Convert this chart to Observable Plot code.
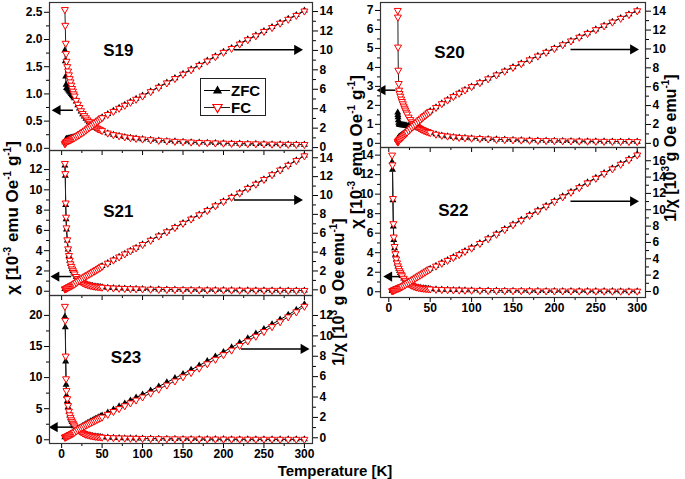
<!DOCTYPE html>
<html><head><meta charset="utf-8">
<script src="https://cdn.jsdelivr.net/npm/d3@7"></script>
<script src="https://cdn.jsdelivr.net/npm/@observablehq/plot@0.6"></script>
<style>
body{margin:0;background:#fff;font-family:Arial,"Liberation Sans",Helvetica,sans-serif;}
#wrap{position:relative;width:685px;height:479px;overflow:hidden;background:#fff;}
#wrap svg{position:absolute;max-width:none;}
.lbl{position:absolute;font-weight:bold;white-space:nowrap;font-size:17px;line-height:17px;color:#000;}
.lbl.sm{font-size:16px;line-height:16px;}
.lbl .sp{font-size:10px;position:relative;top:-7px;}
</style></head><body><div id="wrap"></div>
<script>
// ---------------- data ----------------
const temps = [4,4.5,5,5.5,6,7,8,9,10,11,12,13,14,15,16,18,20,22,24,26,28,30,32,34,36,38,40,42,44,46,48,50,57,64,71,78,85,92,100,110,120,130,140,150,160,170,180,190,200,210,220,230,240,250,260,270,280,290,300];
const tempsS20 = [10.8,11,11.2,11.5,12,12.5,13,14,15,16,17,18,19,20,21,22,24,26,28,30,32,34,36,38,40,42,44,46,48,50,57,64,71,78,85,92,100,110,120,130,140,150,160,170,180,190,200,210,220,230,240,250,260,270,280,290,300];

// S19
const fcChiS19 = [2.55,2.26,1.93,1.74,1.6,1.5,1.42,1.35,1.28,1.22,1.16,1.1,1.05,1.0,0.96,0.88,0.81,0.75,0.69,0.64,0.6,0.56,0.52,0.49,0.46,0.435,0.41,0.39,0.37,0.355,0.34,0.325,0.28,0.25,0.23,0.21,0.195,0.182,0.17,0.157,0.146,0.137,0.128,0.12,0.114,0.108,0.103,0.098,0.094,0.09,0.087,0.084,0.082,0.079,0.077,0.075,0.073,0.071,0.069];
const zfcChiS19 = [1.8,1.6,1.32,1.17,1.11,1.1,1.08,1.06,1.04,1.02,1.0,0.98,0.96,0.94,0.92,0.86,0.79,0.73,0.675,0.625,0.585,0.545,0.51,0.48,0.45,0.425,0.4,0.38,0.36,0.345,0.33,0.318,0.277,0.248,0.228,0.209,0.194,0.181,0.169,0.156,0.145,0.136,0.127,0.119,0.113,0.107,0.102,0.097,0.093,0.089,0.086,0.083,0.081,0.078,0.076,0.074,0.072,0.07,0.068];
const fcInvS19 = [0.39,0.44,0.52,0.57,0.62,0.67,0.7,0.74,0.78,0.82,0.86,0.91,0.95,1.0,1.04,1.14,1.23,1.33,1.45,1.56,1.67,1.79,1.92,2.04,2.17,2.3,2.44,2.56,2.7,2.82,2.94,3.07,3.4,3.72,4.04,4.35,4.66,4.97,5.3,5.75,6.2,6.65,7.1,7.55,8.0,8.45,8.9,9.35,9.8,10.2,10.65,11.1,11.5,11.95,12.35,12.8,13.2,13.6,14.05];
const zfcInvS19 = [0.56,0.63,0.76,0.85,0.9,0.91,0.93,0.94,0.96,0.98,1.0,1.02,1.04,1.06,1.09,1.16,1.26,1.37,1.48,1.6,1.71,1.83,1.96,2.08,2.22,2.35,2.49,2.62,2.76,2.88,3.0,3.13,3.46,3.78,4.1,4.4,4.72,5.03,5.35,5.8,6.25,6.7,7.15,7.6,8.05,8.5,8.95,9.4,9.85,10.25,10.7,11.15,11.55,12.0,12.4,12.85,13.25,13.65,14.1];

// S20
const fcChiS20 = [7.0,6.65,5.07,3.85,3.15,2.8,2.62,2.48,2.33,2.2,2.08,1.96,1.85,1.75,1.64,1.54,1.38,1.25,1.13,1.04,0.96,0.89,0.83,0.78,0.73,0.69,0.65,0.62,0.59,0.56,0.48,0.42,0.38,0.34,0.31,0.29,0.27,0.25,0.23,0.21,0.195,0.182,0.17,0.16,0.151,0.143,0.136,0.13,0.124,0.118,0.113,0.108,0.104,0.1,0.096,0.093,0.09];
const zfcChiS20 = [1.62,1.5,1.38,1.22,1.08,1.0,0.98,0.97,0.97,0.96,0.96,0.95,0.95,0.94,0.94,0.93,0.92,0.91,0.9,0.88,0.86,0.84,0.8,0.76,0.72,0.68,0.645,0.615,0.585,0.555,0.475,0.415,0.375,0.336,0.307,0.287,0.267,0.247,0.227,0.208,0.193,0.18,0.168,0.158,0.149,0.141,0.134,0.128,0.122,0.116,0.111,0.106,0.102,0.098,0.094,0.091,0.088];
const fcInvS20 = [0.14,0.15,0.2,0.26,0.32,0.36,0.4,0.48,0.56,0.64,0.73,0.82,0.9,0.99,1.08,1.17,1.35,1.53,1.7,1.87,2.03,2.2,2.36,2.52,2.67,2.82,2.96,3.1,3.24,3.38,3.8,4.2,4.58,4.95,5.3,5.65,6.0,6.42,6.83,7.24,7.64,8.04,8.44,8.84,9.24,9.64,10.04,10.44,10.84,11.24,11.64,12.04,12.44,12.84,13.24,13.64,14.04];
const zfcInvS20 = [0.42,0.45,0.5,0.55,0.62,0.68,0.72,0.78,0.84,0.9,0.96,1.02,1.08,1.14,1.2,1.27,1.42,1.58,1.74,1.9,2.06,2.23,2.39,2.55,2.7,2.85,2.99,3.13,3.27,3.41,3.83,4.23,4.61,4.98,5.33,5.68,6.03,6.45,6.86,7.27,7.67,8.07,8.47,8.87,9.27,9.67,10.07,10.47,10.87,11.27,11.67,12.07,12.47,12.87,13.27,13.67,14.07];

// S21
const fcChiS21 = [12.6,11.6,8.7,7.3,6.25,5.07,4.18,3.52,3.05,2.7,2.45,2.2,2.02,1.85,1.7,1.45,1.25,1.08,0.95,0.85,0.77,0.7,0.65,0.6,0.56,0.53,0.5,0.475,0.455,0.435,0.415,0.395,0.35,0.315,0.29,0.27,0.25,0.235,0.22,0.2,0.185,0.172,0.16,0.15,0.142,0.134,0.127,0.121,0.115,0.11,0.105,0.1,0.096,0.092,0.088,0.085,0.082,0.079,0.076];
const zfcChiS21 = [12.4,11.4,8.5,7.1,6.1,5.0,4.12,3.48,3.02,2.68,2.43,2.18,2.0,1.84,1.69,1.44,1.24,1.07,0.94,0.84,0.76,0.69,0.64,0.59,0.555,0.525,0.495,0.47,0.45,0.43,0.41,0.39,0.345,0.31,0.287,0.267,0.248,0.233,0.218,0.198,0.183,0.17,0.159,0.149,0.141,0.133,0.126,0.12,0.114,0.109,0.104,0.099,0.095,0.091,0.087,0.084,0.081,0.078,0.075];
const fcInvS21 = [0.08,0.09,0.12,0.14,0.17,0.21,0.26,0.3,0.35,0.39,0.44,0.48,0.53,0.58,0.63,0.76,0.9,1.02,1.13,1.24,1.35,1.45,1.55,1.65,1.75,1.86,1.96,2.06,2.16,2.27,2.38,2.5,2.82,3.15,3.48,3.8,4.12,4.44,4.8,5.25,5.7,6.15,6.6,7.05,7.5,7.95,8.4,8.9,9.35,9.8,10.25,10.75,11.2,11.7,12.2,12.7,13.2,13.7,14.2];
const zfcInvS21 = [0.09,0.1,0.13,0.15,0.18,0.22,0.27,0.31,0.36,0.4,0.45,0.49,0.54,0.59,0.64,0.77,0.91,1.03,1.15,1.26,1.37,1.47,1.57,1.67,1.78,1.88,1.98,2.08,2.19,2.3,2.41,2.52,2.85,3.18,3.5,3.83,4.15,4.47,4.83,5.28,5.73,6.18,6.63,7.08,7.53,7.98,8.44,8.93,9.38,9.83,10.29,10.78,11.24,11.73,12.23,12.73,13.24,13.73,14.23];

// S22
const fcChiS22 = [14.0,13.0,9.55,6.97,5.6,4.63,3.9,3.35,2.95,2.65,2.4,2.15,1.95,1.78,1.63,1.38,1.17,0.98,0.85,0.74,0.65,0.57,0.51,0.47,0.43,0.4,0.37,0.35,0.33,0.31,0.295,0.28,0.245,0.22,0.2,0.183,0.17,0.158,0.148,0.136,0.126,0.117,0.11,0.104,0.098,0.093,0.088,0.084,0.08,0.077,0.074,0.071,0.069,0.066,0.064,0.062,0.06,0.058,0.057];
const zfcChiS22 = [13.3,12.5,9.37,6.69,5.3,4.45,3.8,3.28,2.9,2.6,2.36,2.12,1.93,1.76,1.62,1.37,1.16,0.97,0.84,0.73,0.64,0.565,0.505,0.465,0.425,0.395,0.365,0.345,0.325,0.305,0.29,0.276,0.242,0.217,0.198,0.181,0.168,0.156,0.146,0.134,0.124,0.115,0.108,0.102,0.096,0.091,0.086,0.082,0.078,0.075,0.072,0.069,0.067,0.064,0.062,0.06,0.058,0.056,0.055];
const fcInvS22 = [0.07,0.08,0.1,0.14,0.17,0.21,0.25,0.29,0.33,0.37,0.41,0.46,0.5,0.55,0.6,0.7,0.82,0.96,1.1,1.22,1.35,1.5,1.62,1.75,1.88,2.0,2.12,2.25,2.37,2.5,2.62,2.75,3.1,3.45,3.8,4.15,4.5,4.9,5.3,5.87,6.44,7.0,7.58,8.15,8.7,9.3,9.86,10.43,11.0,11.57,12.14,12.7,13.28,13.85,14.42,15.0,15.56,16.13,16.7];
const zfcInvS22 = [0.08,0.08,0.11,0.15,0.19,0.22,0.26,0.3,0.35,0.39,0.43,0.48,0.52,0.57,0.62,0.72,0.85,0.99,1.13,1.25,1.38,1.53,1.65,1.78,1.91,2.03,2.15,2.28,2.4,2.53,2.65,2.78,3.14,3.5,3.85,4.2,4.56,4.95,5.36,5.93,6.5,7.07,7.65,8.22,8.78,9.37,9.93,10.5,11.07,11.64,12.21,12.78,13.35,13.92,14.5,15.07,15.64,16.21,16.78];

// S23
const fcChiS23 = [21.45,19.2,13.45,9.8,7.9,6.6,5.5,4.6,4.0,3.55,3.2,2.9,2.65,2.4,2.2,1.9,1.65,1.45,1.28,1.12,0.98,0.87,0.8,0.74,0.68,0.63,0.58,0.54,0.5,0.47,0.445,0.42,0.36,0.32,0.29,0.265,0.245,0.225,0.21,0.19,0.175,0.16,0.15,0.14,0.13,0.123,0.116,0.11,0.104,0.099,0.095,0.09,0.087,0.083,0.08,0.077,0.074,0.072,0.07];
const zfcChiS23 = [19.8,18.1,12.6,8.85,7.1,6.2,5.25,4.45,3.9,3.48,3.14,2.85,2.6,2.36,2.16,1.87,1.62,1.42,1.26,1.1,0.96,0.85,0.78,0.72,0.665,0.615,0.57,0.53,0.49,0.46,0.435,0.41,0.35,0.31,0.28,0.257,0.237,0.218,0.203,0.184,0.169,0.155,0.145,0.135,0.126,0.119,0.112,0.106,0.1,0.095,0.091,0.087,0.084,0.08,0.077,0.074,0.072,0.07,0.068];
const fcInvS23 = [0.05,0.06,0.08,0.1,0.13,0.16,0.2,0.24,0.28,0.32,0.36,0.41,0.45,0.5,0.55,0.66,0.78,0.88,0.97,1.06,1.15,1.24,1.32,1.4,1.48,1.56,1.64,1.72,1.8,1.88,1.96,2.03,2.3,2.58,2.86,3.14,3.42,3.7,4.0,4.38,4.77,5.17,5.57,5.98,6.4,6.83,7.26,7.7,8.15,8.6,9.05,9.5,9.96,10.42,10.9,11.38,11.86,12.35,12.9];
const zfcInvS23 = [0.06,0.07,0.09,0.12,0.15,0.18,0.22,0.26,0.3,0.35,0.39,0.44,0.49,0.54,0.6,0.72,0.84,0.95,1.05,1.15,1.25,1.35,1.44,1.53,1.62,1.7,1.78,1.86,1.94,2.02,2.1,2.18,2.48,2.78,3.08,3.37,3.66,3.95,4.25,4.64,5.04,5.44,5.85,6.26,6.68,7.1,7.53,7.97,8.42,8.87,9.32,9.77,10.22,10.68,11.14,11.6,12.07,12.55,13.1];

// tick values
const xTicks = [0,50,100,150,200,250,300];
const xMinorTicks = [25,75,125,175,225,275];
const chiTicksS19 = [0,0.5,1,1.5,2,2.5];
const chiTicksS20 = [0,1,2,3,4,5,6,7];
const chiTicksS21 = [0,2,4,6,8,10,12];
const chiTicksS22 = [0,2,4,6,8,10,12,14];
const chiTicksS23 = [0,5,10,15,20];
const invTicks14 = [0,2,4,6,8,10,12,14];
const invTicks16 = [0,2,4,6,8,10,12,14,16];
const invTicks12 = [0,2,4,6,8,10,12];

// ---------------- drawing ----------------
const FONT = "Arial, 'Liberation Sans', Helvetica, sans-serif";
const wrap = document.getElementById("wrap");
const rows = (T, a) => T.map((t, i) => ({T: t, v: a[i]}));
const mids = (ticks) => ticks.slice(1).map((t, i) => (t + ticks[i]) / 2);
const blank = () => "";

const panels = [
  {name: "S19", T: temps, zc: zfcChiS19, fc: fcChiS19, zi: zfcInvS19, fi: fcInvS19,
   left: 0, top: 0, w: 340, h: 160, mT: 2, mB: 10, mL: 49, mR: 28, xDom: [-15, 310], xLab: false,
   chiDom: [-0.04, 2.68], chiTicks: chiTicksS19, chiFmt: ".1f", invDom: [-0.3, 14.93], invTicks: invTicks14,
   arrows: [{x1: 14, x2: -5, y: 0.70}, {x1: 213, x2: 291, y: 1.81}], lab: {x: 70, y: 1.8}},
  {name: "S21", T: temps, zc: zfcChiS21, fc: fcChiS21, zi: zfcInvS21, fi: fcInvS21,
   left: 0, top: 140, w: 340, h: 165, mT: 10, mB: 10, mL: 49, mR: 28, xDom: [-15, 310], xLab: false,
   chiDom: [-0.42, 13.88], chiTicks: chiTicksS21, chiFmt: "d", invDom: [-0.6, 14.77], invTicks: invTicks14,
   arrows: [{x1: 11.5, x2: -6.5, y: 1.45}, {x1: 213, x2: 291, y: 9.0}], lab: {x: 70, y: 7.9}},
  {name: "S23", T: temps, zc: zfcChiS23, fc: fcChiS23, zi: zfcInvS23, fi: fcInvS23,
   left: 0, top: 285, w: 340, h: 194, mT: 10, mB: 36, mL: 49, mR: 28, xDom: [-15, 310], xLab: true,
   chiDom: [-0.6, 23.2], chiTicks: chiTicksS23, chiFmt: "d", invDom: [-0.56, 13.96], invTicks: invTicks12,
   arrows: [{x1: 13.6, x2: -8.5, y: 2.03}, {x1: 221.7, x2: 299, y: 14.6}], lab: {x: 79.5, y: 13.3}},
  {name: "S20", T: tempsS20, zc: zfcChiS20, fc: fcChiS20, zi: zfcInvS20, fi: fcInvS20,
   left: 340, top: 0, w: 345, h: 157, mT: 2, mB: 10, mL: 40, mR: 40, xDom: [-10, 310], xLab: false,
   chiDom: [-0.22, 7.42], chiTicks: chiTicksS20, chiFmt: "d", invDom: [-0.44, 14.92], invTicks: invTicks14,
   arrows: [{x1: 8.1, x2: -7.5, y: 2.8}, {x1: 219.4, x2: 295, y: 4.95}], lab: {x: 73.3, y: 4.8}},
  {name: "S22", T: temps, zc: zfcChiS22, fc: fcChiS22, zi: zfcInvS22, fi: fcInvS22,
   left: 340, top: 137, w: 345, h: 190, mT: 10, mB: 30, mL: 40, mR: 40, xDom: [-10, 310], xLab: true,
   chiDom: [-0.59, 14.78], chiTicks: chiTicksS22, chiFmt: "d", invDom: [-0.74, 17.62], invTicks: invTicks16,
   arrows: [{x1: 13.3, x2: 0.5, y: 1.55}, {x1: 219.4, x2: 295, y: 9.27}], lab: {x: 78, y: 8.3}}
];

function place(svg, p) {
  svg.style.left = p.left + "px";
  svg.style.top = p.top + "px";
  wrap.appendChild(svg);
}

for (const p of panels) {
  const base = {
    width: p.w, height: p.h, marginLeft: p.mL, marginRight: p.mR, marginTop: p.mT, marginBottom: p.mB,
    style: {background: "transparent", overflow: "visible", fontFamily: FONT, fontSize: "12px", fontWeight: "bold", color: "#000"}
  };
  const zc = rows(p.T, p.zc), fc = rows(p.T, p.fc), zi = rows(p.T, p.zi), fi = rows(p.T, p.fi);
  const dataMarks = (z, f) => [
    Plot.line(z, {x: "T", y: "v", stroke: "#000", strokeWidth: 1}),
    Plot.dot(z, {x: "T", y: "v", symbol: "triangle", fill: "#000", r: 2.6}),
    Plot.line(f, {x: "T", y: "v", stroke: "#222", strokeWidth: 1}),
    Plot.dot(f, {x: "T", y: "v", symbol: "triangle", rotate: 180, fill: "#fff", stroke: "#ff0000", strokeWidth: 1, r: 2.6})
  ];
  const A = Plot.plot({
    ...base,
    x: {domain: p.xDom, label: null},
    y: {domain: p.chiDom, label: null},
    marks: [
      Plot.axisY(mids(p.chiTicks), {anchor: "left", tickSize: 3, tickFormat: blank, label: null}),
      Plot.axisY(p.chiTicks, {anchor: "left", tickSize: 5, tickPadding: 2, tickFormat: p.chiFmt, label: null}),
      Plot.axisX(xMinorTicks, {anchor: "bottom", tickSize: 3, tickFormat: blank, label: null}),
      Plot.axisX(xTicks, {anchor: "bottom", tickSize: 5, tickPadding: 1, tickFormat: p.xLab ? "d" : blank, label: null}),
      ...dataMarks(zc, fc),
      Plot.link(p.arrows, {x1: "x1", x2: "x2", y1: "y", y2: "y", stroke: "#000", strokeWidth: 1.5}),
      Plot.dot(p.arrows, {x: "x2", y: "y", symbol: "triangle", rotate: d => d.x2 > d.x1 ? 90 : -90, fill: "#000", r: 3.8}),
      Plot.text([{x: p.lab.x, y: p.lab.y, t: p.name}], {x: "x", y: "y", text: "t", fontSize: 17, fontWeight: "bold", fill: "#000"}),
      Plot.frame({stroke: "#333", strokeWidth: 1.2})
    ]
  });
  place(A, p);
  const B = Plot.plot({
    ...base,
    x: {domain: p.xDom, axis: null},
    y: {domain: p.invDom, label: null},
    marks: [
      Plot.axisY(mids(p.invTicks), {anchor: "right", tickSize: 3, tickFormat: blank, label: null}),
      Plot.axisY(p.invTicks, {anchor: "right", tickSize: 5, tickPadding: 2, tickFormat: "d", label: null}),
      ...dataMarks(zi, fi)
    ]
  });
  place(B, p);
}

// axis titles
const chiTitle = 'χ [10<span class="sp">-3</span> emu Oe<span class="sp">-1</span> g<span class="sp">-1</span>]';
const invTitle = '1/χ [10<span class="sp">3</span> g Oe emu<span class="sp">-1</span>]';
function label(html, cx, cy, rot, cls) {
  const d = document.createElement("div");
  d.className = "lbl" + (cls ? " " + cls : "");
  d.innerHTML = html;
  d.style.left = cx + "px";
  d.style.top = cy + "px";
  d.style.transform = "translate(-50%,-50%)" + (rot ? " rotate(-90deg)" : "");
  wrap.appendChild(d);
}
label(chiTitle, 13, 218, true);
label(invTitle, 340, 292, true, "sm");
label(chiTitle, 357, 152, true);
label(invTitle, 672, 148, true, "sm");
label("Temperature [K]", 335, 470, false, "tt");

// legend (S19)
const leg = document.createElement("div");
leg.style.cssText = "position:absolute;left:200px;top:78px;width:64px;height:36px;border:1px solid #222;background:#fff;";
leg.innerHTML = `<svg width="64" height="36" style="position:absolute;left:0;top:0;overflow:visible">
<line x1="3" x2="29" y1="11.5" y2="11.5" stroke="#000" stroke-width="1"/>
<path transform="translate(16.5,11.5)" d="M0,-5L4.6,3L-4.6,3Z" fill="#000"/>
<text x="30" y="17" font-family="${FONT}" font-size="15" font-weight="bold">ZFC</text>
<line x1="3" x2="29" y1="28.5" y2="28.5" stroke="#222" stroke-width="1"/>
<path transform="translate(16.5,28.5) rotate(180)" d="M0,-5L4.6,3L-4.6,3Z" fill="#fff" stroke="#ff0000" stroke-width="1.2"/>
<text x="30" y="34" font-family="${FONT}" font-size="15" font-weight="bold">FC</text>
</svg>`;
wrap.appendChild(leg);
</script>
<style>.lbl.tt{font-size:15px;line-height:15px;}</style>
</body></html>
